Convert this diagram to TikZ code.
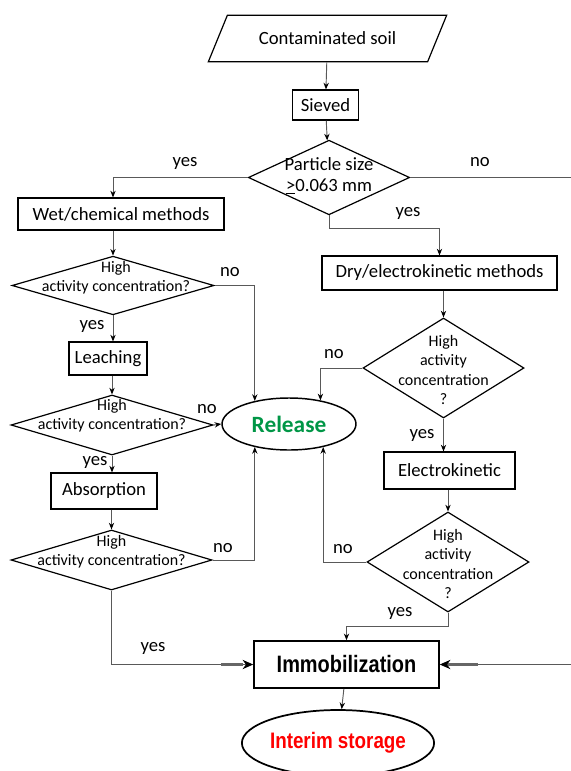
\documentclass[tikz,border=0pt]{standalone}
\usepackage{fontspec}
\setmainfont{Carlito}
\newfontfamily\narrowfont[FakeStretch=0.84]{Liberation Sans}
\usepackage{tikz}
\usepackage{xcolor}
\usetikzlibrary{shapes.geometric, arrows.meta, positioning, calc}

\definecolor{relgreen}{RGB}{0,150,70}

\begin{document}
\begin{tikzpicture}[x=0.75pt, y=-0.75pt,
  box/.style={draw, line width=0.9pt, inner sep=0pt, font=\fontsize{14}{17}\selectfont},
  decision/.style={draw, shape=diamond, line width=0.9pt, inner sep=0pt},
  dtext/.style={align=center, inner sep=0pt, font=\fontsize{12}{14.5}\selectfont},
  lbl/.style={inner sep=0pt, font=\fontsize{14}{17}\selectfont},
  conn/.style={draw=black!65, line width=0.7pt, -{Stealth[length=5pt,width=4pt,black]}},
  bigconn/.style={draw=black!65, line width=0.7pt, -{Stealth[length=8pt,width=7pt,black]}},
  thickbit/.style={draw=black!60, line width=2pt}]

\useasboundingbox (0,0) rectangle (571,771);

% top
\node[box, shape=trapezium, trapezium left angle=45, trapezium right angle=135,
  trapezium stretches=true, minimum width=179pt, minimum height=35pt] (soil) at (327.5,38.5) {Contaminated soil};
\node[box, minimum width=50pt, minimum height=22.5pt] (sieved) at (325.5,105) {Sieved};
\node[decision, minimum width=121pt, minimum height=56pt] (size) at (329,177.5) {};
\node[dtext, font=\fontsize{14}{16}\selectfont] (size-t) at (329,176) {Particle size\\\underline{>}0.063 mm};

% wet branch
\node[box, minimum width=154.5pt, minimum height=24pt] (wet) at (121,214) {Wet/chemical methods};
\node[decision, minimum width=151.5pt, minimum height=44pt] (hac1) at (113,285.5) {};
\node[dtext] (hac1-t) at (116,278) {High\\activity concentration?};
\node[box, minimum width=58.5pt, minimum height=24.75pt] (leach) at (108,358.5) {Leaching};
\node[decision, minimum width=151.5pt, minimum height=45pt] (hac2) at (112,425) {};
\node[dtext] (hac2-t) at (112,416) {High\\activity concentration?};
\node[box, minimum width=79.5pt, minimum height=27pt] (absorb) at (104,491) {Absorption};
\node[decision, minimum width=150.75pt, minimum height=45pt] (hac3) at (111.5,560) {};
\node[dtext] (hac3-t) at (111.5,552) {High\\activity concentration?};

\node[draw, ellipse, line width=1.1pt, minimum width=100.5pt, minimum height=39pt, inner sep=0pt,
  text=relgreen, font=\fontsize{17.5}{20}\selectfont\bfseries] (release) at (289,424) {Release};

% dry branch
\node[box, minimum width=176.25pt, minimum height=25.5pt] (dry) at (439.5,273) {Dry/electrokinetic methods};
\node[decision, minimum width=120.75pt, minimum height=75pt] (hac4) at (443.5,368) {};
\node[dtext] (hac4-t) at (443.5,370) {High\\activity\\concentration\\?};
\node[box, minimum width=98.25pt, minimum height=27.75pt] (electro) at (449.5,470.5) {Electrokinetic};
\node[decision, minimum width=121.5pt, minimum height=75pt] (hac5) at (448,562) {};
\node[dtext] (hac5-t) at (448,564) {High\\activity\\concentration\\?};

% bottom
\node[box, line width=1.2pt, minimum width=138.75pt, minimum height=35.25pt,
  font=\narrowfont\bfseries\fontsize{17.8}{20}\selectfont] (immob) at (346.5,664.5) {Immobilization};
\node[draw, ellipse, line width=1.3pt, minimum width=142.5pt, minimum height=49.5pt, inner sep=0pt,
  text=red, font=\narrowfont\bfseries\fontsize{16.8}{19}\selectfont] (interim) at (338,743) {Interim storage};

\coordinate (rim) at (590,177.5);

\draw[conn] (soil) -- (sieved);
\draw[conn] (sieved) -- (size);
\draw[conn] (size.west) -| (wet.north -| hac1.north);
\draw[conn] (size.south) -- ++(0,13) -| (dry.north);

\draw[conn] (wet.south -| hac1.north) -- (hac1.north);
\draw[conn] (hac1.south) -- (hac1.south |- leach.north);
\draw[conn] (leach.south -| hac2.north) -- (hac2.north);
\draw[conn] (hac2.south) -- (hac2.south |- absorb.north);
\draw[conn] (absorb.south -| hac3.north) -- (hac3.north);

\draw[conn] (dry.south -| hac4.north) -- (hac4.north);
\draw[conn] (hac4.south) -- (hac4.south |- electro.north);
\draw[conn] (electro.south -| hac5.north) -- (hac5.north);

\draw[conn] (hac1.east) -| (release.146);
\draw[conn] (hac2.east) -- (release.west);
\draw[conn] (hac3.east) -| (release.214);
\draw[conn] (hac4.west) -| (release.37);
\draw[conn] (hac5.west) -| (release.-34);

\draw[bigconn] (hac3.south) |- (immob.west);
\draw[bigconn] (size.east) -| (rim |- immob.east) -- (immob.east);
\draw[thickbit] ([xshift=-24pt]immob.west) -- ([xshift=-8pt]immob.west);
\draw[thickbit] ([xshift=6pt]immob.east) -- ([xshift=29pt]immob.east);
\draw[conn] (hac5.south) -- ++(0,14) -| (immob.north);
\draw[conn] (immob) -- (interim);

% yes / no
\node[lbl] (l1) at (185,163) {yes};
\node[lbl] (l2) at (480,162) {no};
\node[lbl] (l3) at (408,213) {yes};
\node[lbl] (l4) at (230,272) {no};
\node[lbl] (l5) at (92,326) {yes};
\node[lbl] (l6) at (207,409) {no};
\node[lbl] (l7) at (95,462) {yes};
\node[lbl] (l8) at (223,548) {no};
\node[lbl] (l9) at (153,648) {yes};
\node[lbl] (l10) at (334,354) {no};
\node[lbl] (l11) at (422,435) {yes};
\node[lbl] (l12) at (343,549) {no};
\node[lbl] (l13) at (400,613) {yes};
\end{tikzpicture}
\end{document}
